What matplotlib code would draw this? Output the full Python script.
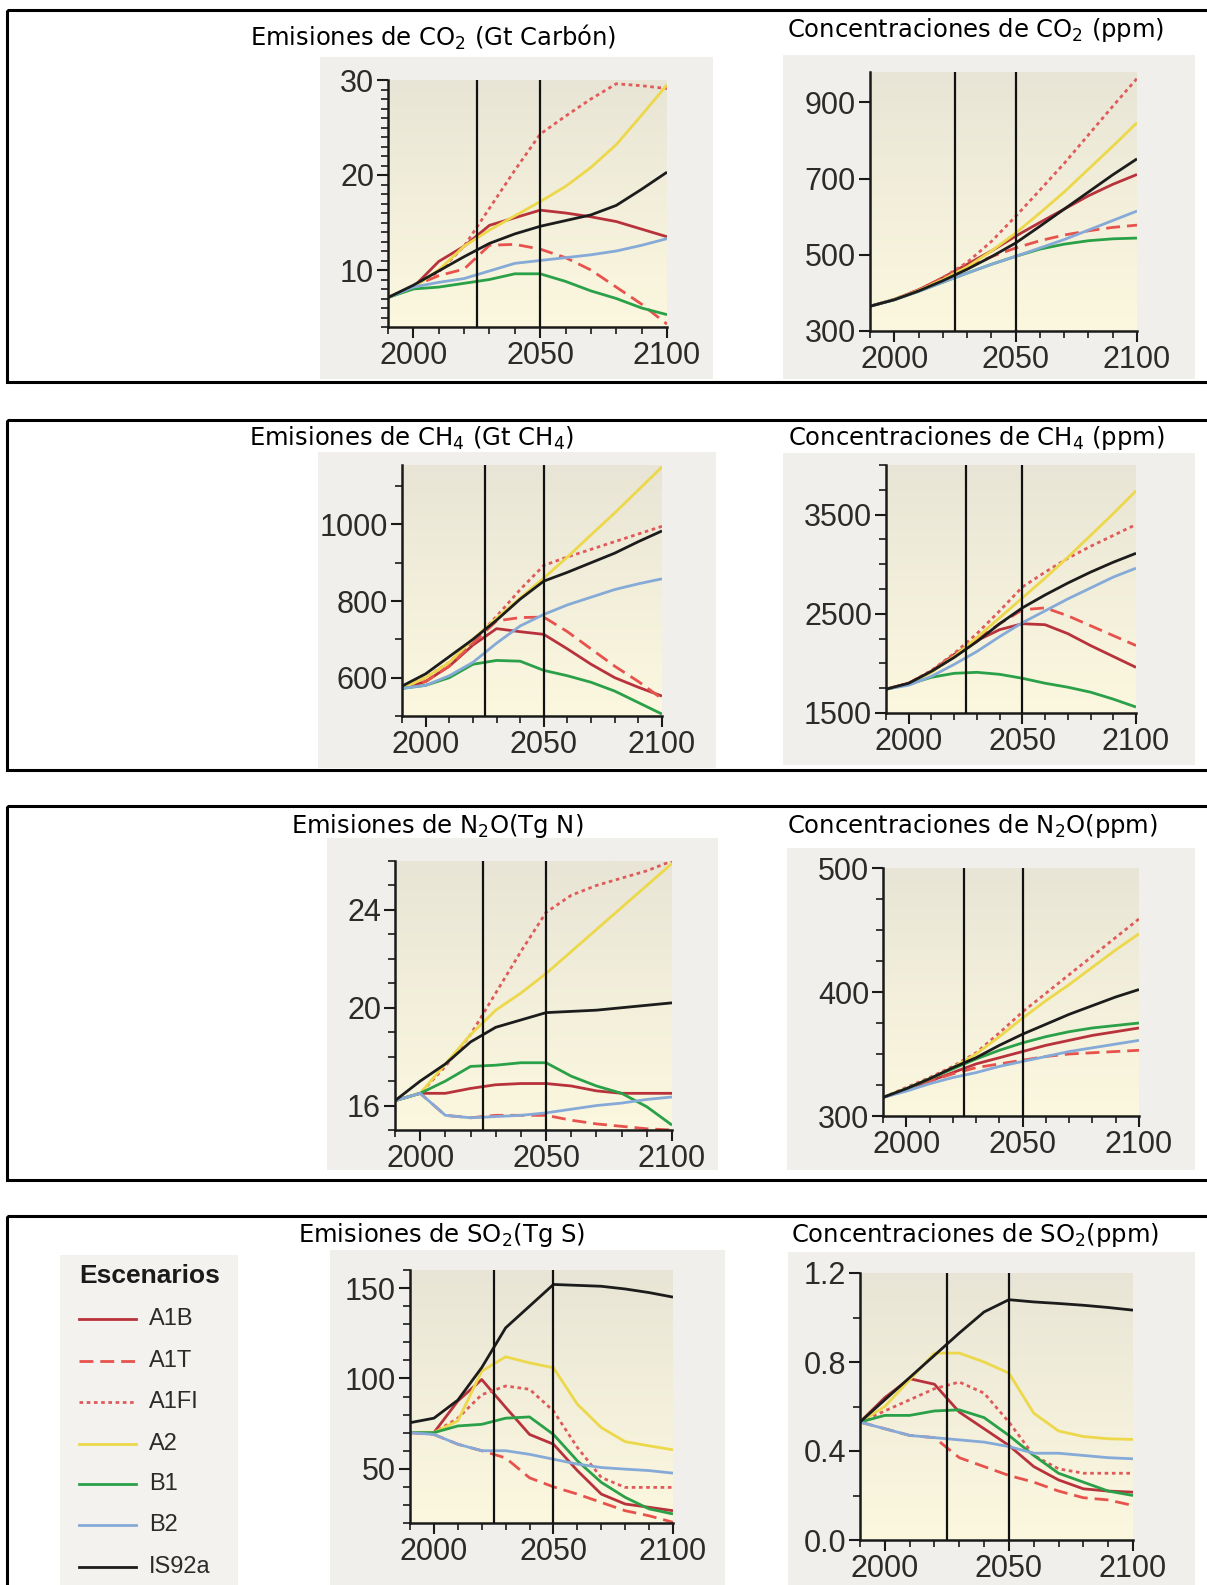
import matplotlib
matplotlib.use('Agg')
import matplotlib.pyplot as plt
import matplotlib.patches as patches
import numpy as np
from matplotlib.colors import LinearSegmentedColormap
from matplotlib.ticker import FixedLocator, MultipleLocator, FormatStrFormatter

plt.rcParams['font.family'] = ['Liberation Sans', 'DejaVu Sans']
plt.rcParams['mathtext.fontset'] = 'dejavusans'
plt.rcParams['mathtext.default'] = 'regular'

# ---------------- data ----------------
YEARS = [1990, 2000, 2010, 2020, 2030, 2040, 2050, 2060, 2070, 2080, 2090, 2100]
SCENARIOS = ['A1B', 'A1T', 'A1FI', 'A2', 'B1', 'B2', 'IS92a']

co2_emis = {
    'A1B':   [7.1, 8.2, 10.9, 12.5, 14.7, 15.5, 16.3, 16.0, 15.6, 15.1, 14.3, 13.5],
    'A1T':   [7.1, 8.3, 9.4, 10.1, 12.6, 12.7, 12.2, 11.3, 10.0, 8.2, 6.4, 4.3],
    'A1FI':  [7.1, 8.3, 9.8, 12.5, 16.5, 20.5, 24.3, 26.2, 28.0, 29.6, 29.4, 29.1],
    'A2':    [7.1, 8.2, 10.0, 12.5, 14.2, 15.7, 17.2, 18.8, 20.8, 23.2, 26.3, 29.5],
    'B1':    [7.1, 8.0, 8.2, 8.6, 9.0, 9.6, 9.6, 8.8, 7.8, 7.0, 6.0, 5.3],
    'B2':    [7.1, 8.2, 8.7, 9.1, 9.9, 10.7, 11.0, 11.3, 11.6, 12.0, 12.6, 13.3],
    'IS92a': [7.1, 8.4, 9.9, 11.4, 12.8, 13.8, 14.6, 15.2, 15.8, 16.8, 18.5, 20.3],
}
co2_conc = {
    'A1B':   [365, 383, 408, 440, 475, 510, 549, 585, 620, 655, 685, 711],
    'A1T':   [365, 383, 408, 438, 468, 495, 518, 537, 552, 563, 572, 578],
    'A1FI':  [365, 383, 408, 440, 480, 535, 601, 670, 740, 815, 890, 963],
    'A2':    [365, 383, 406, 435, 468, 510, 557, 610, 665, 725, 785, 847],
    'B1':    [365, 382, 404, 428, 452, 475, 496, 515, 528, 537, 542, 544],
    'B2':    [365, 382, 404, 428, 452, 475, 496, 518, 540, 565, 590, 615],
    'IS92a': [365, 382, 405, 432, 462, 495, 531, 575, 620, 665, 710, 752],
}
ch4_emis = {
    'A1B':   [572, 590, 630, 685, 728, 720, 713, 675, 635, 600, 575, 552],
    'A1T':   [572, 590, 630, 690, 748, 757, 758, 720, 675, 630, 590, 545],
    'A1FI':  [572, 600, 640, 695, 760, 830, 893, 915, 935, 955, 975, 995],
    'A2':    [572, 600, 640, 700, 755, 808, 860, 915, 973, 1030, 1090, 1150],
    'B1':    [572, 580, 600, 635, 645, 643, 619, 605, 588, 565, 535, 505],
    'B2':    [572, 580, 605, 640, 690, 735, 765, 790, 810, 830, 845, 858],
    'IS92a': [578, 610, 655, 700, 750, 805, 852, 875, 900, 925, 955, 983],
}
ch4_conc = {
    'A1B':   [1740, 1800, 1920, 2090, 2230, 2340, 2400, 2390, 2300, 2180, 2070, 1960],
    'A1T':   [1740, 1800, 1920, 2080, 2240, 2400, 2540, 2560, 2480, 2380, 2280, 2180],
    'A1FI':  [1740, 1800, 1930, 2100, 2300, 2530, 2770, 2920, 3060, 3180, 3290, 3400],
    'A2':    [1740, 1790, 1910, 2070, 2260, 2460, 2660, 2860, 3070, 3290, 3510, 3740],
    'B1':    [1740, 1790, 1860, 1900, 1910, 1890, 1850, 1800, 1760, 1710, 1640, 1560],
    'B2':    [1740, 1780, 1870, 1990, 2120, 2270, 2410, 2530, 2650, 2760, 2870, 2960],
    'IS92a': [1740, 1800, 1920, 2060, 2220, 2400, 2560, 2690, 2810, 2920, 3020, 3110],
}
n2o_emis = {
    'A1B':   [16.2, 16.5, 16.5, 16.7, 16.85, 16.9, 16.9, 16.8, 16.6, 16.5, 16.5, 16.5],
    'A1T':   [16.2, 16.5, 15.6, 15.5, 15.6, 15.6, 15.6, 15.4, 15.25, 15.15, 15.05, 15.0],
    'A1FI':  [16.2, 16.5, 17.6, 18.9, 20.6, 22.3, 23.9, 24.6, 25.0, 25.3, 25.6, 26.0],
    'A2':    [16.2, 16.5, 17.7, 18.9, 19.9, 20.6, 21.4, 22.3, 23.2, 24.1, 25.0, 25.9],
    'B1':    [16.2, 16.5, 17.0, 17.6, 17.65, 17.75, 17.75, 17.2, 16.8, 16.5, 15.95, 15.2],
    'B2':    [16.2, 16.5, 15.6, 15.5, 15.55, 15.6, 15.7, 15.85, 16.0, 16.1, 16.25, 16.35],
    'IS92a': [16.2, 17.0, 17.7, 18.6, 19.2, 19.5, 19.8, 19.85, 19.9, 20.0, 20.1, 20.2],
}
n2o_conc = {
    'A1B':   [315, 321, 328, 335, 342, 347, 352, 357, 361, 365, 368, 371],
    'A1T':   [315, 321, 328, 334, 339, 342, 345, 348, 350, 351, 352, 353],
    'A1FI':  [315, 323, 331, 340, 351, 367, 384, 399, 414, 429, 444, 459],
    'A2':    [315, 322, 330, 339, 350, 364, 379, 393, 406, 420, 434, 447],
    'B1':    [315, 322, 330, 338, 346, 353, 359, 364, 368, 371, 373, 375],
    'B2':    [315, 320, 326, 331, 335, 340, 344, 348, 352, 355, 358, 361],
    'IS92a': [315, 322, 330, 339, 347, 357, 366, 374, 382, 389, 396, 402],
}
so2_emis = {
    'A1B':   [70, 70, 87.5, 99.4, 84, 69, 63.6, 49, 36, 30.5, 28.7, 26.8],
    'A1T':   [70, 69, 63.6, 60, 56, 45, 40, 36, 31.4, 26.8, 24, 20.4],
    'A1FI':  [70, 70, 78, 91, 95.8, 94, 82, 61.8, 45.2, 39.7, 39.7, 39.7],
    'A2':    [70, 70, 76.5, 104, 112, 108.6, 105.9, 85.7, 72.8, 65, 62.7, 60.5],
    'B1':    [70, 70, 73.7, 74.6, 78, 78.7, 69, 54.4, 42.5, 34.2, 27.8, 25],
    'B2':    [70, 69, 63.6, 60, 60, 58, 55.3, 52.6, 50.7, 49.8, 49, 47.6],
    'IS92a': [75.5, 78, 88, 106, 128, 140, 152, 151.5, 151, 149.5, 147.5, 145],
}
so2_conc = {
    'A1B':   [0.53, 0.64, 0.725, 0.70, 0.575, 0.50, 0.425, 0.33, 0.27, 0.23, 0.22, 0.215],
    'A1T':   [0.53, 0.50, 0.47, 0.46, 0.37, 0.33, 0.29, 0.26, 0.22, 0.19, 0.18, 0.155],
    'A1FI':  [0.53, 0.58, 0.63, 0.68, 0.71, 0.66, 0.53, 0.38, 0.32, 0.30, 0.30, 0.30],
    'A2':    [0.53, 0.60, 0.72, 0.84, 0.84, 0.80, 0.75, 0.57, 0.49, 0.465, 0.455, 0.452],
    'B1':    [0.53, 0.56, 0.56, 0.58, 0.585, 0.55, 0.47, 0.38, 0.30, 0.26, 0.22, 0.20],
    'B2':    [0.53, 0.50, 0.47, 0.46, 0.45, 0.44, 0.42, 0.39, 0.39, 0.38, 0.37, 0.365],
    'IS92a': [0.53, 0.63, 0.73, 0.83, 0.93, 1.025, 1.08, 1.07, 1.063, 1.055, 1.045, 1.033],
}

# ---------------- styles ----------------
colors = {'A1B': '#b8323c', 'A1T': '#e8524d', 'A1FI': '#e05a5a', 'A2': '#ecd84a',
          'B1': '#2aa048', 'B2': '#86aad8', 'IS92a': '#1c1c1c'}
styles = {'A1B': '-', 'A1T': (0, (5, 2.5)), 'A1FI': (0, (1.3, 1.3)), 'A2': '-',
          'B1': '-', 'B2': '-', 'IS92a': '-'}

W, H = 1207, 1585
fig = plt.figure(figsize=(W / 100, H / 100), dpi=100)

# background layer in pixel coordinates
bg = fig.add_axes([0, 0, 1, 1])
bg.set_xlim(0, W)
bg.set_ylim(H, 0)
bg.axis('off')

for top, bottom in [(10, 382), (420, 770), (806, 1180), (1216, 1620)]:
    bg.add_patch(patches.Rectangle((7, top), 1300, bottom - top, fill=False,
                                   lw=2.2, ec='black'))

# (data, title, title position, gray box, axes box, ylim, major yticks, minor step, fmt)
panels = [
    (co2_emis, 'Emisiones de CO$_2$ (Gt Carbón)', (433, 37), (320, 57, 713, 379),
     (388, 80, 667, 327), (4, 30), [10, 20, 30], 1, '%d'),
    (co2_conc, 'Concentraciones de CO$_2$ (ppm)', (976, 30), (783, 55, 1195, 379),
     (870, 72, 1137, 331), (300, 980), [300, 500, 700, 900], None, '%d'),
    (ch4_emis, 'Emisiones de CH$_4$ (Gt CH$_4$)', (411, 438), (318, 452, 716, 768),
     (402, 465, 662, 716), (500, 1155), [600, 800, 1000], 100, '%d'),
    (ch4_conc, 'Concentraciones de CH$_4$ (ppm)', (976, 438), (783, 453, 1195, 765),
     (886, 465, 1136, 713), (1500, 4000), [1500, 2500, 3500], 250, '%d'),
    (n2o_emis, 'Emisiones de N$_2$O(Tg N)', (437, 826), (327, 838, 718, 1170),
     (395, 861, 672, 1130), (15, 26), [16, 20, 24], 1, '%d'),
    (n2o_conc, 'Concentraciones de N$_2$O(ppm)', (972, 826), (787, 848, 1195, 1170),
     (883, 868, 1139, 1116), (300, 500), [300, 400, 500], 25, '%d'),
    (so2_emis, 'Emisiones de SO$_2$(Tg S)', (441, 1235), (330, 1250, 725, 1585),
     (410, 1270, 673, 1523), (20, 160), [50, 100, 150], 10, '%d'),
    (so2_conc, 'Concentraciones de SO$_2$(ppm)', (975, 1235), (788, 1252, 1195, 1585),
     (860, 1273, 1133, 1540), (0, 1.2), [0.0, 0.4, 0.8, 1.2], 0.2, '%.1f'),
]

grad_cmap = LinearSegmentedColormap.from_list('bgfade', ['#e8e5d6', '#fcf8df'])
grad = np.linspace(0, 1, 256).reshape(-1, 1)

for data, title, tpos, gbox, abox, ylim, yticks, ystep, fmt in panels:
    gl, gt, gr, gb = gbox
    bg.add_patch(patches.Rectangle((gl, gt), gr - gl, gb - gt, fc='#f0efeb', ec='none'))
    fig.text(tpos[0] / W, 1 - tpos[1] / H, title, ha='center', va='center',
             fontsize=17.5, family='DejaVu Sans', color='black')

    l, t, r, b = abox
    ax = fig.add_axes([l / W, 1 - b / H, (r - l) / W, (b - t) / H])
    ax.imshow(grad, extent=[1990, 2100, ylim[0], ylim[1]], aspect='auto',
              cmap=grad_cmap, origin='upper', zorder=0)
    for s in SCENARIOS:
        ax.plot(YEARS, data[s], color=colors[s], linestyle=styles[s], lw=2,
                zorder=2, solid_capstyle='butt')
    ax.axvline(2025, color='#111', lw=1.6, zorder=3)
    ax.axvline(2050, color='#111', lw=1.6, zorder=3)

    ax.set_xlim(1990, 2100)
    ax.set_ylim(*ylim)
    ax.xaxis.set_major_locator(FixedLocator([2000, 2050, 2100]))
    ax.xaxis.set_minor_locator(MultipleLocator(10))
    ax.yaxis.set_major_locator(FixedLocator(yticks))
    if ystep:
        ax.yaxis.set_minor_locator(MultipleLocator(ystep))
    ax.yaxis.set_major_formatter(FormatStrFormatter(fmt))
    for side in ['top', 'right']:
        ax.spines[side].set_visible(False)
    for side in ['left', 'bottom']:
        ax.spines[side].set_linewidth(1.8)
        ax.spines[side].set_color('#1a1a1a')
    ax.tick_params(which='major', direction='out', length=8, width=1.5,
                   labelsize=22, pad=2, colors='#1a1a1a', labelcolor='#2b2b2b')
    ax.tick_params(which='minor', direction='out', length=5, width=1.2, colors='#1a1a1a')

# legend panel
bg.add_patch(patches.Rectangle((60, 1255), 178, 340, fc='#f3f2ef', ec='none'))
fig.text(79 / W, 1 - 1276 / H, 'Escenarios', ha='left', va='center',
         fontsize=19, fontweight='bold', color='#1a1a1a')
legend_y = [1319, 1361, 1402, 1444, 1484, 1525, 1567]
for s, yy in zip(SCENARIOS, legend_y):
    bg.plot([79, 136], [yy, yy], color=colors[s], linestyle=styles[s], lw=2)
    bg.text(149, yy, s, ha='left', va='center', fontsize=17, color='#2b2b2b')

fig.savefig('out.png', dpi=100)
